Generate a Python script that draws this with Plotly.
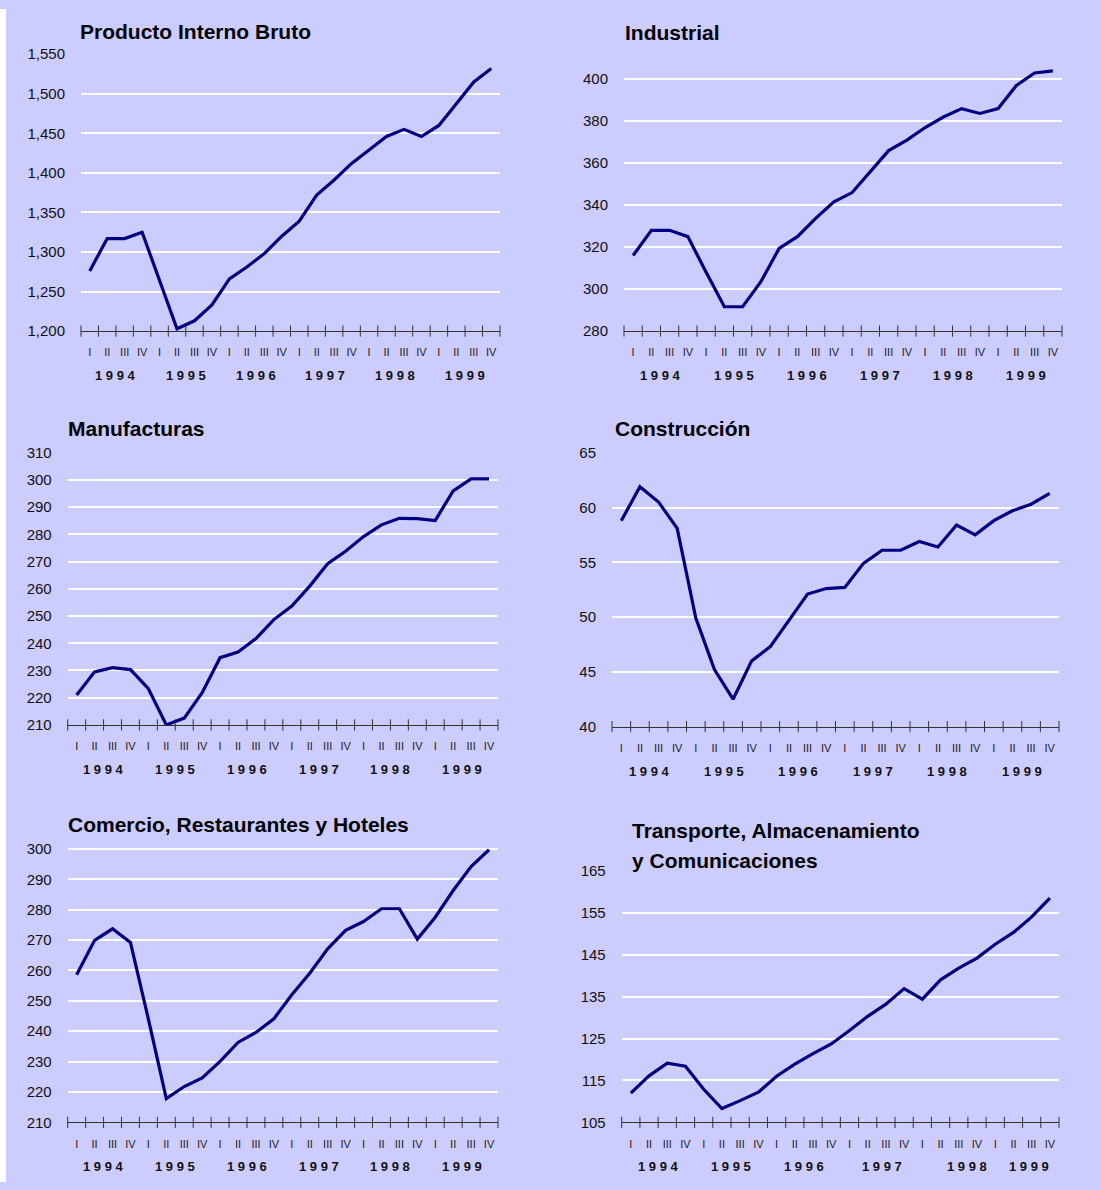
import plotly.graph_objects as go

W, H = 1101, 1190

quarters = ["I", "II", "III", "IV"] * 6
years = ["1994", "1995", "1996", "1997", "1998", "1999"]

titles = [
    "Producto Interno Bruto",
    "Industrial",
    "Manufacturas",
    "Construcción",
    "Comercio, Restaurantes y Hoteles",
    "Transporte, Almacenamiento<br>y Comunicaciones",
]

pib = [1276, 1317, 1317, 1325, 1264, 1203, 1213, 1233, 1266, 1281, 1298, 1320,
       1339, 1372, 1391, 1412, 1429, 1446, 1455, 1446, 1460, 1488, 1515, 1532]
industrial = [316, 328, 328, 325, 308, 291.6, 291.6, 303.5, 319.4, 325, 333.7, 341.6,
              346, 356, 366, 371, 377, 382, 386, 383.7, 386, 397, 403, 404]
manufacturas = [221, 229.5, 231, 230.3, 223.3, 210, 212.5, 221.8, 234.7, 236.8, 241.7, 248.7,
                253.7, 261, 269.2, 273.8, 279.2, 283.5, 285.9, 285.8, 285.1, 296, 300.4, 300.4]
construccion = [58.8, 61.9, 60.5, 58.1, 49.9, 45.2, 42.5, 46.0, 47.3, 49.7, 52.1, 52.6,
                52.7, 54.9, 56.1, 56.1, 56.9, 56.4, 58.4, 57.5, 58.8, 59.7, 60.3, 61.3]
comercio = [258.6, 269.9, 273.7, 269.2, 244, 217.8, 221.8, 224.6, 230.1, 236.3, 239.6, 244.1,
            252, 259.1, 267.1, 273.2, 276.1, 280.3, 280.3, 270.3, 277.5, 286.3, 294.2, 299.7]
transporte = [112, 116.1, 119.1, 118.4, 112.9, 108.3, 110.2, 112.2, 116, 118.9, 121.4, 123.7,
              126.9, 130.3, 133.2, 136.9, 134.4, 139, 141.8, 144.2, 147.5, 150.3, 154, 158.5]

series = [pib, industrial, manufacturas, construccion, comercio, transporte]

# panel geometry (target pixels): x0, x1, y_top, y_bottom, y-range, dtick, tickformat, title pos
panels = [
    dict(x0=81, x1=500, yt=54, yb=331, rng=[1200, 1550], dt=50, fmt=",", tx=78, ty=31),
    dict(x0=624, x1=1062, yt=64.3, yb=331, rng=[280, 407], dt=20, fmt="", tx=623, ty=32),
    dict(x0=67.7, x1=498, yt=452.7, yb=725, rng=[210, 310], dt=10, fmt="", tx=66, ty=428),
    dict(x0=612, x1=1059, yt=452.7, yb=726.7, rng=[40, 65], dt=5, fmt="", tx=612.7, ty=428),
    dict(x0=67.7, x1=498, yt=846, yb=1122.7, rng=[210, 301], dt=10, fmt="", tx=66, ty=825),
    dict(x0=621.7, x1=1059, yt=871, yb=1122.7, rng=[105, 165], dt=10, fmt="", tx=630, ty=831),
]
year_xshift = [[0] * 6] * 5 + [[0, 0, 0, 5, 17, 6]]

# vertical correction for the capture pipeline (observed offset and scale)
OFF, SC = 8.75, 0.9862


def py(y):
    return (y - OFF) / SC


LAV = "#CCCCFF"
NAVY = "#000080"
AXC = "#333333"
FONT = "Liberation Sans, Arial, sans-serif"

fig = go.Figure()
n = len(quarters)
xs = list(range(n))
bounds = [i - 0.5 for i in range(n + 1)]
annotations = []

for k, (p, vals) in enumerate(zip(panels, series)):
    sfx = "" if k == 0 else str(k + 1)
    xa, ya = "x" + sfx, "y" + sfx
    fig.add_trace(go.Scatter(
        x=bounds, y=[p["rng"][0]] * len(bounds), xaxis=xa, yaxis=ya,
        mode="markers", cliponaxis=False, hoverinfo="skip",
        marker=dict(symbol="line-ns", size=8, line=dict(width=1, color=AXC), color=AXC),
    ))
    fig.add_trace(go.Scatter(
        x=xs, y=vals, xaxis=xa, yaxis=ya, mode="lines",
        line=dict(color=NAVY, width=3.2), hoverinfo="skip",
    ))
    fig.layout["xaxis" + sfx] = dict(
        domain=[p["x0"] / W, p["x1"] / W], anchor=ya, range=[-0.5, n - 0.5],
        tickmode="array", tickvals=xs, ticktext=quarters, ticks="",
        showgrid=False, zeroline=False, showline=True, linecolor=AXC, linewidth=1,
        tickfont=dict(family=FONT, size=11, color="#222"), ticklabelstandoff=11,
        fixedrange=True,
    )
    fig.layout["yaxis" + sfx] = dict(
        domain=[1 - py(p["yb"]) / H, 1 - py(p["yt"]) / H], anchor=xa, range=p["rng"],
        tick0=p["rng"][0], dtick=p["dt"], tickformat=p["fmt"], ticks="",
        showgrid=True, gridcolor="white", gridwidth=2, zeroline=False, showline=False,
        tickfont=dict(family=FONT, size=15, color="#111"), ticklabelstandoff=15,
        fixedrange=True,
    )
    for j, yr in enumerate(years):
        annotations.append(dict(
            x=4 * j + 1.5, y=0, xref=xa, yref=ya + " domain", yshift=-44.5,
            xshift=year_xshift[k][j],
            text="<b>" + " ".join(yr) + "</b>", showarrow=False,
            xanchor="center", yanchor="middle",
            font=dict(family=FONT, size=13, color="#111"),
        ))
    for li, line in enumerate(titles[k].split("<br>")):
        annotations.append(dict(
            x=p["tx"] / W, y=1 - py(p["ty"] + 30 * li) / H, xref="paper", yref="paper",
            text="<b>" + line + "</b>", showarrow=False,
            xanchor="left", yanchor="middle",
            font=dict(family=FONT, size=21, color="#000"),
        ))

fig.update_layout(
    width=W, height=H, margin=dict(l=0, r=0, t=0, b=0),
    paper_bgcolor=LAV, plot_bgcolor=LAV, showlegend=False,
    annotations=annotations,
    shapes=[dict(type="rect", xref="paper", yref="paper", x0=0, x1=6 / W, y0=0,
                 y1=1, fillcolor="white", line=dict(width=0), layer="below")],
)

post = (
    "document.documentElement.style.margin='0';"
    "document.documentElement.style.overflow='hidden';"
    "document.body.style.margin='0';"
    "document.body.style.overflow='hidden';"
    "var gd=document.getElementById('{plot_id}');"
    "gd.style.position='fixed';gd.style.top='0px';gd.style.left='0px';"
)
fig.write_html("out.html", post_script=post, config={"displayModeBar": False})
